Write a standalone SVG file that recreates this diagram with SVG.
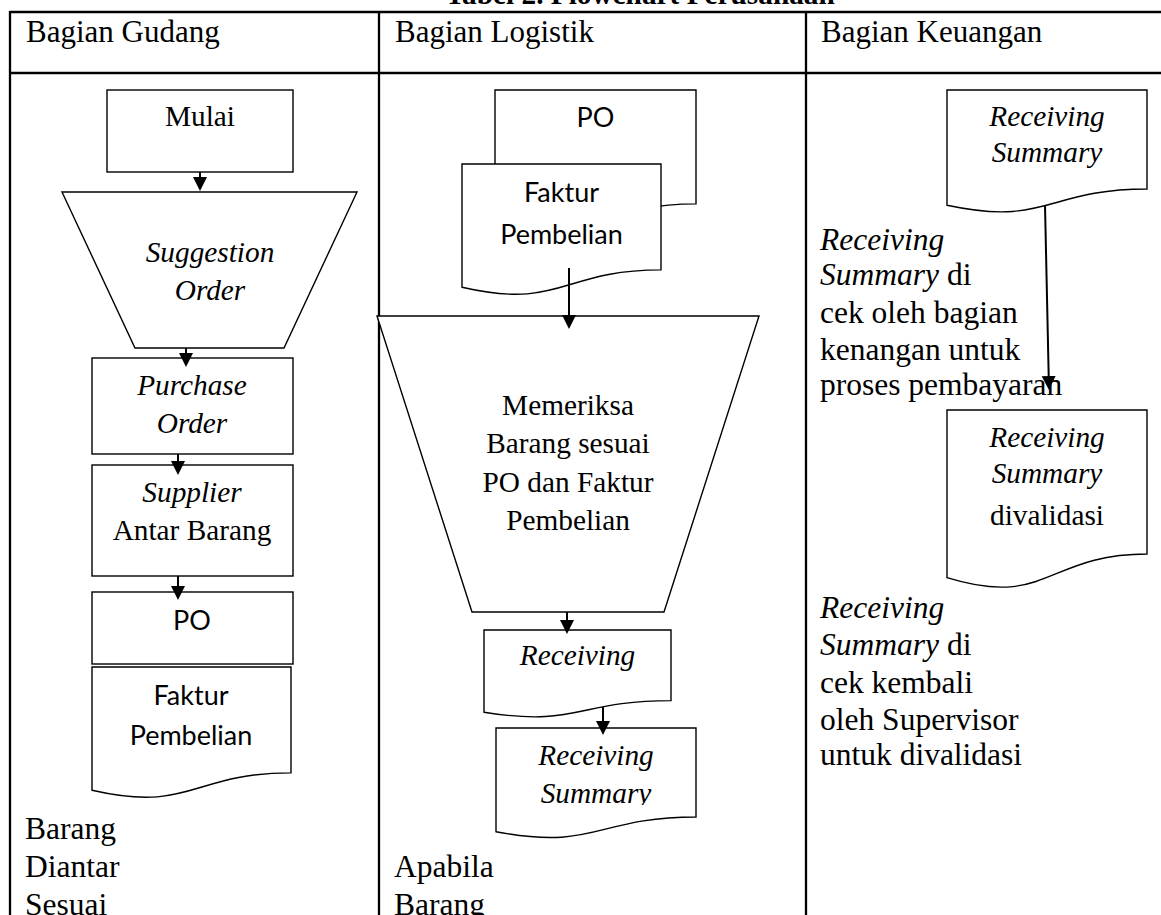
<svg xmlns="http://www.w3.org/2000/svg" width="1161" height="915" viewBox="0 0 1161 915">
<defs>
<style>
.tbl{stroke:#000;stroke-width:2.3;fill:none}
.shape{fill:#fff;stroke:#000;stroke-width:1.4}
.serif{font-family:"Liberation Serif","Times New Roman",serif;fill:#000}
.s11{font-size:29.3px}
.s12{font-size:31.5px}
.sans{font-family:Lato,"Liberation Sans",sans-serif;font-size:27px;fill:#000}
.it{font-style:italic}
.mid{text-anchor:middle}
.conn{stroke:#000;stroke-width:2;fill:none;marker-end:url(#ah)}
</style>
<marker id="ah" markerUnits="userSpaceOnUse" markerWidth="15" markerHeight="15" refX="11" refY="7.5" orient="auto" viewBox="0 0 15 15"><path d="M0,0.5 L14,7.5 L0,14.5 Z" fill="#000"/></marker>
<clipPath id="clipRS"><rect x="480" y="720" width="240" height="85"/></clipPath>
</defs>
<rect width="1161" height="915" fill="#fff"/>

<g id="title">
<text class="serif mid" x="640" y="3.5" font-size="29.3" font-weight="bold">Tabel 2. Flowchart Perusahaan</text>
</g>

<g id="table">
<line class="tbl" x1="10" y1="12" x2="1161" y2="12"/>
<line class="tbl" x1="10" y1="73" x2="1161" y2="73"/>
<line class="tbl" x1="10" y1="11" x2="10" y2="915"/>
<line class="tbl" x1="379" y1="11" x2="379" y2="915"/>
<line class="tbl" x1="806" y1="11" x2="806" y2="915"/>
<text class="serif" x="26" y="42" font-size="31">Bagian Gudang</text>
<text class="serif" x="395" y="42" font-size="31">Bagian Logistik</text>
<text class="serif" x="821" y="42" font-size="31">Bagian Keuangan</text>
</g>

<!-- Bagian Gudang -->
<g id="mulai">
<rect class="shape" x="107" y="90" width="186" height="82"/>
<text class="serif s11 mid" x="200" y="126">Mulai</text>
</g>
<g id="suggestion-order">
<polygon class="shape" points="62,192 357,192 284,348 135,348"/>
<text class="serif s11 mid it" x="210" y="262">Suggestion</text>
<text class="serif s11 mid it" x="210" y="300">Order</text>
</g>
<g id="purchase-order">
<rect class="shape" x="92" y="358" width="201" height="96"/>
<text class="serif s11 mid it" x="192" y="395">Purchase</text>
<text class="serif s11 mid it" x="192" y="433">Order</text>
</g>
<g id="supplier">
<rect class="shape" x="92" y="465" width="201" height="111"/>
<text class="serif s11 mid it" x="192" y="502">Supplier</text>
<text class="serif s11 mid" x="192" y="540">Antar Barang</text>
</g>
<g id="po-gudang">
<rect class="shape" x="92" y="592" width="201" height="72"/>
<text class="sans mid" x="192" y="630">PO</text>
</g>
<g id="faktur-gudang">
<path class="shape" d="M92,667 H291 V772.9 C191.5,772.9 191.5,813.1 92,790.3 Z"/>
<text class="sans mid" x="191" y="705">Faktur</text>
<text class="sans mid" x="191" y="745">Pembelian</text>
</g>
<g id="note-gudang">
<text class="serif s12" x="25" y="839">Barang</text>
<text class="serif s12" x="25" y="877">Diantar</text>
<text class="serif s12" x="25" y="915">Sesuai</text>
</g>

<!-- Bagian Logistik -->
<g id="po-logistik">
<path class="shape" d="M495,90 H696 V203.9 C595.5,203.9 595.5,247.2 495,222.6 Z"/>
<text class="sans mid" x="595.5" y="127">PO</text>
</g>
<g id="faktur-logistik">
<path class="shape" d="M462,164 H661 V269.9 C561.5,269.9 561.5,310.1 462,287.3 Z"/>
<text class="sans mid" x="561.5" y="202">Faktur</text>
<text class="sans mid" x="561.5" y="244">Pembelian</text>
</g>
<g id="memeriksa">
<polygon class="shape" points="377,316 759,316 664,612 472,612"/>
<text class="serif s11 mid" x="568" y="415">Memeriksa</text>
<text class="serif s11 mid" x="568" y="453">Barang sesuai</text>
<text class="serif s11 mid" x="568" y="492">PO dan Faktur</text>
<text class="serif s11 mid" x="568" y="530">Pembelian</text>
</g>
<g id="receiving">
<path class="shape" d="M484,630 H671 V700.6 C577.5,700.6 577.5,727.4 484,712.2 Z"/>
<text class="serif s11 mid it" x="577.5" y="665">Receiving</text>
</g>
<g id="receiving-summary-logistik">
<path class="shape" d="M496,728 H696 V817 C596,817 596,850.9 496,831.7 Z"/>
<g clip-path="url(#clipRS)">
<text class="serif s11 mid it" x="596" y="765">Receiving</text>
<text class="serif s11 mid it" x="596" y="803">Summary</text>
</g>
</g>
<g id="note-logistik">
<text class="serif s12" x="394" y="877">Apabila</text>
<text class="serif s12" x="394" y="915">Barang</text>
</g>

<!-- Bagian Keuangan -->
<g id="receiving-summary-keuangan">
<path class="shape" d="M947,90 H1147 V189 C1047,189 1047,226.7 947,205.3 Z"/>
<text class="serif s11 mid it" x="1047" y="126">Receiving</text>
<text class="serif s11 mid it" x="1047" y="162">Summary</text>
</g>
<g id="note-cek-bagian">
<text class="serif s12" x="820" y="250"><tspan class="it">Receiving</tspan></text>
<text class="serif s12" x="820" y="285"><tspan class="it">Summary</tspan> di</text>
<text class="serif s12" x="820" y="323">cek oleh bagian</text>
<text class="serif s12" x="820" y="360">kenangan untuk</text>
<text class="serif s12" x="820" y="395">proses pembayaran</text>
</g>
<g id="receiving-summary-divalidasi">
<path class="shape" d="M947,410 H1147 V554 C1047,554 1047,608.7 947,577.7 Z"/>
<text class="serif s11 mid it" x="1047" y="447">Receiving</text>
<text class="serif s11 mid it" x="1047" y="483">Summary</text>
<text class="serif s11 mid" x="1047" y="525">divalidasi</text>
</g>
<g id="note-supervisor">
<text class="serif s12" x="820" y="618"><tspan class="it">Receiving</tspan></text>
<text class="serif s12" x="820" y="655"><tspan class="it">Summary</tspan> di</text>
<text class="serif s12" x="820" y="693">cek kembali</text>
<text class="serif s12" x="820" y="730">oleh Supervisor</text>
<text class="serif s12" x="820" y="765">untuk divalidasi</text>
</g>

<g id="connectors">
<line class="conn" x1="200" y1="172" x2="200" y2="188"/>
<line class="conn" x1="186" y1="348" x2="186" y2="364"/>
<line class="conn" x1="178" y1="454" x2="178" y2="472"/>
<line class="conn" x1="178" y1="576" x2="178" y2="597"/>
<line class="conn" x1="569" y1="268" x2="569" y2="326"/>
<line class="conn" x1="567" y1="612" x2="567" y2="631"/>
<line class="conn" x1="603" y1="707" x2="603" y2="732"/>
<line class="conn" x1="1045" y1="205" x2="1048.93" y2="387"/>
</g>
</svg>
